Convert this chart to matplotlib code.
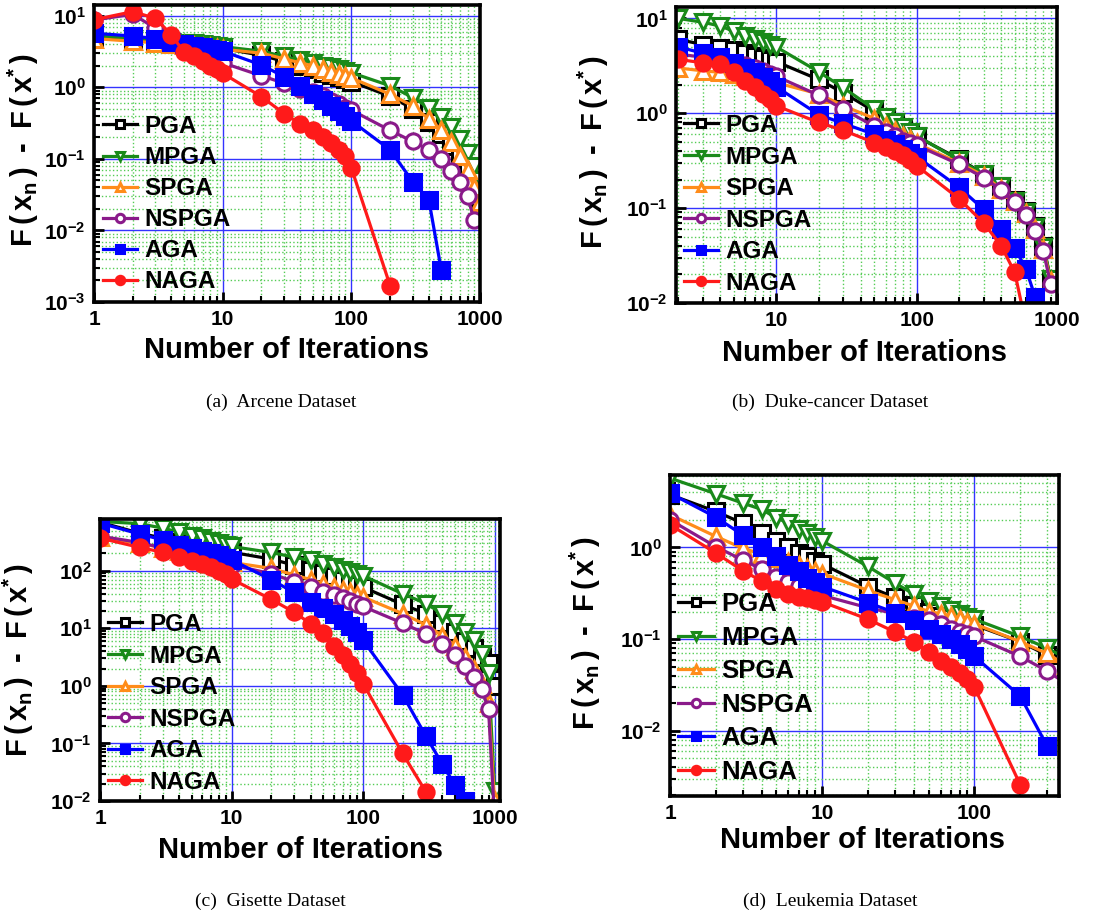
import numpy as np
import matplotlib
matplotlib.use("Agg")
import matplotlib.pyplot as plt
from matplotlib.ticker import FixedLocator, FuncFormatter, LogLocator, NullFormatter

plt.rcParams['font.family'] = ['Liberation Sans', 'DejaVu Sans']
plt.rcParams['mathtext.fontset'] = 'custom'
plt.rcParams['mathtext.bf'] = 'Liberation Sans:bold'
plt.rcParams['mathtext.rm'] = 'Liberation Sans:bold'
plt.rcParams['mathtext.it'] = 'Liberation Sans:bold'

nan = np.nan
methods = ['PGA', 'MPGA', 'SPGA', 'NSPGA', 'AGA', 'NAGA']

# ---------------- (a) Arcene ----------------
iters_a = [1, 2, 3, 4, 5, 6, 7, 8, 9, 10, 20, 30, 40, 50, 60, 70, 80, 90, 100,
           200, 300, 400, 500, 600, 700, 800, 900, 1000]
pga_a = [5.0, 4.5, 4.3, 4.1, 4.0, 3.9, 3.8, 3.7, 3.6, 3.5, 2.8, 2.3, 2.0, 1.8, 1.6, 1.5, 1.4, 1.3, 1.2,
         0.75, 0.5, 0.33, 0.22, 0.15, 0.11, 0.074, 0.045, 0.027]
mpga_a = [5.3, 4.8, 4.5, 4.3, 4.2, 4.1, 4.0, 3.9, 3.8, 3.7, 3.2, 2.7, 2.4, 2.2, 2.0, 1.9, 1.8, 1.7, 1.6,
          1.05, 0.72, 0.52, 0.38, 0.28, 0.19, 0.12, 0.08, 0.05]
spga_a = [4.8, 4.4, 4.2, 4.0, 3.9, 3.8, 3.7, 3.6, 3.5, 3.4, 3.0, 2.5, 2.2, 2.0, 1.8, 1.65, 1.55, 1.45, 1.35,
          0.8, 0.55, 0.36, 0.25, 0.17, 0.11, 0.07, 0.04, 0.025]
nspga_a = [8.7, 10.5, 6.7, 4.5, 3.8, 3.4, 3.0, 2.7, 2.5, 2.2, 1.45, 1.14, 0.95, 0.85, 0.75, 0.65, 0.58, 0.52, 0.48,
           0.25, 0.175, 0.134, 0.098, 0.067, 0.048, 0.03, 0.014, nan]
aga_a = [5.7, 5.2, 4.8, 4.3, 4.0, 3.8, 3.6, 3.4, 3.3, 3.2, 2.05, 1.41, 1.05, 0.8, 0.66, 0.55, 0.47, 0.4, 0.34,
         0.134, 0.048, 0.027, 0.0028, nan, nan, nan, nan, nan]
naga_a = [8.8, 11.4, 9.2, 5.4, 3.1, 2.7, 2.3, 2.0, 1.8, 1.57, 0.74, 0.43, 0.31, 0.254, 0.2, 0.165, 0.134, 0.108, 0.075,
          0.0017, nan, nan, nan, nan, nan, nan, nan, nan]

# ---------------- (b) Duke-cancer ----------------
iters_b = [2, 3, 4, 5, 6, 7, 8, 9, 10, 20, 30, 50, 60, 70, 80, 90, 100,
           200, 300, 400, 500, 600, 700, 800, 900]
pga_b = [6.0, 5.3, 4.9, 4.6, 4.3, 4.0, 3.8, 3.6, 3.5, 2.27, 1.64, 1.05, 0.9, 0.8, 0.7, 0.63, 0.57,
         0.33, 0.23, 0.17, 0.123, 0.093, 0.065, 0.04, 0.018]
mpga_b = [10.0, 9.1, 8.3, 7.3, 6.6, 6.0, 5.6, 5.3, 5.0, 2.74, 1.86, 1.1, 0.92, 0.8, 0.72, 0.64, 0.58,
          0.32, 0.23, 0.17, 0.12, 0.09, 0.063, 0.039, 0.018]
spga_b = [3.0, 2.8, 2.7, 2.6, 2.5, 2.4, 2.3, 2.2, 2.1, 1.6, 1.2, 0.88, 0.74, 0.65, 0.58, 0.53, 0.48,
          0.3, 0.22, 0.16, 0.118, 0.088, 0.06, 0.037, 0.017]
nspga_b = [4.2, 3.9, 3.6, 3.4, 3.2, 3.0, 2.8, 2.6, 2.45, 1.55, 1.1, 0.73, 0.64, 0.57, 0.51, 0.48, 0.46,
           0.29, 0.21, 0.155, 0.116, 0.084, 0.058, 0.035, 0.016]
aga_b = [5.0, 4.3, 3.9, 3.4, 3.0, 2.7, 2.4, 2.2, 1.9, 0.97, 0.78, 0.6, 0.52, 0.47, 0.42, 0.38, 0.35,
         0.166, 0.097, 0.06, 0.038, 0.023, 0.0115, 0.005, nan]
naga_b = [3.7, 3.4, 3.3, 2.7, 2.2, 1.9, 1.6, 1.4, 1.2, 0.8, 0.66, 0.49, 0.44, 0.4, 0.36, 0.32, 0.28,
          0.126, 0.07, 0.04, 0.021, 0.006, nan, nan, nan]

# ---------------- (c) Gisette ----------------
iters_c = [1, 2, 3, 4, 5, 6, 7, 8, 9, 10, 20, 30, 40, 50, 60, 70, 80, 90, 100,
           200, 300, 400, 500, 600, 700, 800, 900, 1000]
pga_c = [700, 450, 370, 320, 290, 270, 250, 235, 220, 210, 160, 125, 105, 90, 80, 70, 63, 57, 52,
         26, 18, 12.5, 8.5, 6.0, 4.5, 3.2, 2.5, 1.0]
mpga_c = [720, 660, 550, 470, 410, 370, 335, 305, 285, 265, 208, 172, 151, 130, 115, 103, 95, 88, 82,
          40, 27, 18, 12.3, 8.8, 6.3, 3.6, 1.7, 0.015]
spga_c = [380, 300, 250, 220, 200, 185, 170, 160, 150, 140, 110, 85, 70, 60, 52, 46, 42, 38, 35,
          18, 11.5, 7.5, 5.0, 3.2, 2.0, 1.1, 0.5, 0.01]
nspga_c = [400, 310, 250, 210, 185, 165, 150, 140, 132, 127, 89, 65, 52, 43, 38, 34, 30, 27, 24,
           12.3, 8.0, 5.4, 3.4, 2.2, 1.45, 0.87, 0.39, 0.005]
aga_c = [675, 435, 345, 283, 250, 225, 205, 185, 170, 155, 70, 42, 29, 22.5, 18, 14, 11, 8.5, 6.2,
         0.7, 0.135, 0.044, 0.019, 0.0099, nan, nan, nan, nan]
naga_c = [370, 255, 210, 173, 150, 130, 115, 100, 88, 72, 32, 19, 12, 8.2, 5.0, 3.5, 2.4, 1.7, 1.1,
          0.067, 0.0145, nan, nan, nan, nan, nan, nan, nan]

# ---------------- (d) Leukemia ----------------
iters_d = [1, 2, 3, 4, 5, 6, 7, 8, 9, 10, 20, 30, 40, 50, 60, 70, 80, 90, 100, 200, 300, 400]
pga_d = [3.76, 2.47, 1.84, 1.43, 1.18, 1.0, 0.88, 0.8, 0.72, 0.66, 0.375, 0.285, 0.237, 0.2, 0.18, 0.17,
         0.16, 0.15, 0.143, 0.094, 0.067, 0.05]
mpga_d = [5.7, 3.85, 3.05, 2.6, 2.1, 1.85, 1.6, 1.45, 1.3, 1.18, 0.62, 0.41, 0.31, 0.26, 0.23, 0.21,
          0.19, 0.175, 0.165, 0.107, 0.08, 0.062]
spga_d = [2.27, 1.32, 0.98, 0.85, 0.76, 0.7, 0.65, 0.6, 0.56, 0.52, 0.34, 0.27, 0.23, 0.2, 0.19, 0.18,
          0.165, 0.155, 0.147, 0.094, 0.07, 0.052]
nspga_d = [2.0, 1.02, 0.73, 0.58, 0.48, 0.42, 0.38, 0.35, 0.32, 0.3, 0.22, 0.19, 0.17, 0.16, 0.145, 0.13,
           0.12, 0.113, 0.107, 0.065, 0.045, 0.033]
aga_d = [3.9, 2.14, 1.37, 1.0, 0.8, 0.65, 0.55, 0.47, 0.42, 0.375, 0.25, 0.195, 0.16, 0.13, 0.115, 0.1,
         0.088, 0.078, 0.065, 0.024, 0.0069, nan]
naga_d = [1.77, 0.87, 0.56, 0.43, 0.35, 0.31, 0.29, 0.28, 0.265, 0.255, 0.165, 0.12, 0.094, 0.073, 0.058,
          0.05, 0.043, 0.037, 0.03, 0.0026, nan, nan]

captions = ['(a)  Arcene Dataset', '(b)  Duke-cancer Dataset',
            '(c)  Gisette Dataset', '(d)  Leukemia Dataset']
xlabel = 'Number of Iterations'
ylabel = r'$\mathbf{F\,(\,x_{n}\,)\;\;\text{-}\;\;F\,(\,x^{*}\,)}$'

styles = {
    'PGA':   dict(color='black', marker='s', mfc='white'),
    'MPGA':  dict(color='#1a8a1a', marker='v', mfc='white'),
    'SPGA':  dict(color='#ff8c1a', marker='^', mfc='white'),
    'NSPGA': dict(color='#8a1a8a', marker='o', mfc='white'),
    'AGA':   dict(color='#0000ff', marker='s', mfc='#0000ff'),
    'NAGA':  dict(color='#ff1a1a', marker='o', mfc='#ff1a1a'),
}

W, H = 1107, 917
fig = plt.figure(figsize=(W / 100, H / 100), dpi=100)

panels = [
    dict(box=(94, 5, 480, 302), x=iters_a, ys=[pga_a, mpga_a, spga_a, nspga_a, aga_a, naga_a],
         xlim=(1, 1000), ylim=(1e-3, 10 ** 1.15), xt=[1, 10, 100, 1000], yt=[-3, -2, -1, 0, 1],
         leg=(103, 115), lfs=17.5, ls=0.33, ylab=(23, 150), xlab=(287, 350), cap=(281, 402)),
    dict(box=(676, 7, 1057, 303), x=iters_b, ys=[pga_b, mpga_b, spga_b, nspga_b, aga_b, naga_b],
         xlim=(1.93, 1000), ylim=(1e-2, 10 ** 1.12), xt=[10, 100, 1000], yt=[-2, -1, 0, 1],
         leg=(684, 114), lfs=17.5, ls=0.35, ylab=(593, 152), xlab=(865, 353), cap=(830, 402)),
    dict(box=(100, 519, 500, 801), x=iters_c, ys=[pga_c, mpga_c, spga_c, nspga_c, aga_c, naga_c],
         xlim=(1, 1100), ylim=(1e-2, 10 ** 2.9), xt=[1, 10, 100, 1000], yt=[-2, -1, 0, 1, 2],
         leg=(108, 613), lfs=17.5, ls=0.35, ylab=(18, 660), xlab=(300, 850), cap=(270, 901)),
    dict(box=(670, 475, 1059, 796), x=iters_d, ys=[pga_d, mpga_d, spga_d, nspga_d, aga_d, naga_d],
         xlim=(1, 360), ylim=(10 ** -2.71, 10 ** 0.79), xt=[1, 10, 100], yt=[-2, -1, 0],
         leg=(678, 592), lfs=18.5, ls=0.37, ylab=(585, 633), xlab=(863, 840), cap=(830, 901)),
]

for i, p in enumerate(panels):
    l, t, r, b = p['box']
    ax = fig.add_axes([l / W, 1 - b / H, (r - l) / W, (b - t) / H])
    ax.set_xscale('log')
    ax.set_yscale('log')
    for name, y in zip(methods, p['ys']):
        st = styles[name]
        ax.plot(p['x'], y, color=st['color'], marker=st['marker'], mfc=st['mfc'],
                mec=st['color'], mew=2.2, ms=11, lw=2.3, label=name)
    ax.set_xlim(*p['xlim'])
    ax.set_ylim(*p['ylim'])
    ax.xaxis.set_major_locator(FixedLocator(p['xt']))
    ax.xaxis.set_major_formatter(FuncFormatter(lambda v, pos: '%d' % round(v)))
    ax.yaxis.set_major_locator(FixedLocator([10.0 ** e for e in p['yt']]))
    ax.yaxis.set_major_formatter(FuncFormatter(
        lambda v, pos: r'$\mathbf{10^{%d}}$' % int(round(np.log10(v)))))
    ax.xaxis.set_minor_locator(LogLocator(base=10, subs=np.arange(2, 10), numticks=20))
    ax.yaxis.set_minor_locator(LogLocator(base=10, subs=np.arange(2, 10), numticks=20))
    ax.xaxis.set_minor_formatter(NullFormatter())
    ax.yaxis.set_minor_formatter(NullFormatter())
    ax.grid(which='minor', color='#55cc55', linestyle=':', linewidth=1.0, zorder=0)
    ax.grid(which='major', color='#3333ff', linestyle='-', linewidth=1.0, zorder=0)
    ax.set_axisbelow(True)
    ax.tick_params(which='major', direction='in', length=7, width=2,
                   top=False, right=False, pad=6)
    ax.tick_params(axis='x', which='major', labelsize=15)
    ax.tick_params(axis='y', which='major', labelsize=15)
    ax.tick_params(which='minor', direction='in', length=4, width=1.5, top=False, right=False)
    for lab in ax.get_xticklabels() + ax.get_yticklabels():
        lab.set_fontweight('bold')
    for sp in ax.spines.values():
        sp.set_linewidth(2.6)
    # axis labels
    ax.set_xlabel(xlabel, fontsize=21, fontweight='bold')
    ax.set_ylabel(ylabel, fontsize=21, fontweight='bold')
    xl, yl = p['xlab']
    ax.xaxis.set_label_coords((xl - l) / (r - l), (b - yl) / (b - t))
    ax.xaxis.label.set_va('center')
    xl, yl = p['ylab']
    ax.yaxis.set_label_coords((xl - l) / (r - l), (b - yl) / (b - t))
    ax.yaxis.label.set_va('center')
    # legend
    lx, ly = p['leg']
    ax.legend(loc='upper left', bbox_to_anchor=((lx - l) / (r - l), (b - ly) / (b - t)),
              frameon=False, prop=dict(size=p['lfs'], weight='bold'),
              handlelength=1.4, handletextpad=0.3, labelspacing=p['ls'],
              borderpad=0, borderaxespad=0, markerscale=0.55)
    cx, cy = p['cap']
    fig.text(cx / W, 1 - cy / H, captions[i], ha='center', va='center',
             fontsize=14, family='Liberation Serif')

fig.savefig('out.png', dpi=100, facecolor='white')
